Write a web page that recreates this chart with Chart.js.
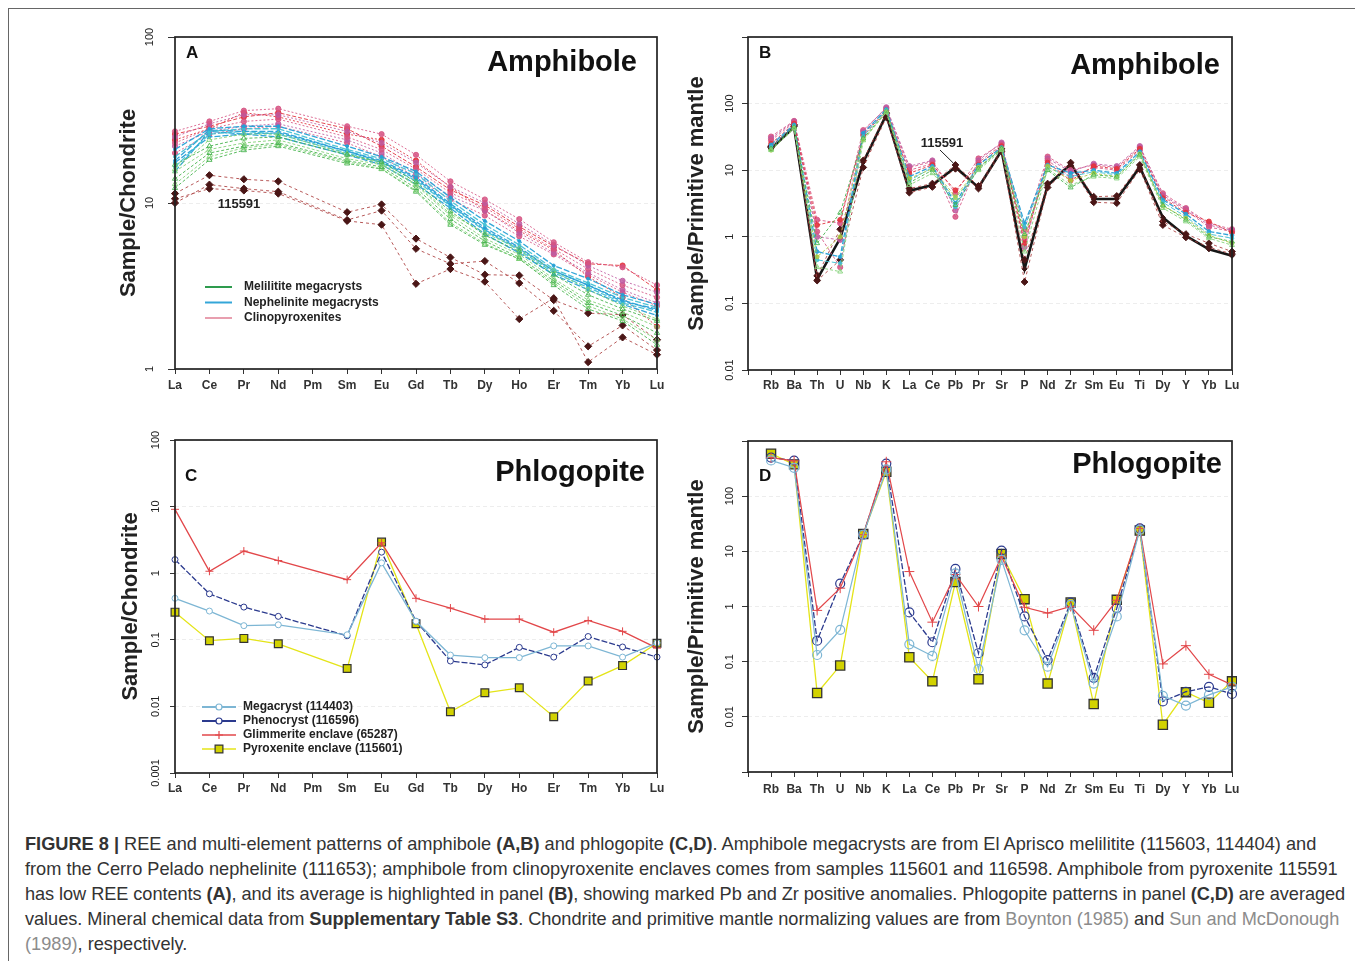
<!DOCTYPE html>
<html><head><meta charset="utf-8">
<script src="https://cdn.jsdelivr.net/npm/chart.js@4.4.1/dist/chart.umd.min.js"></script>
<style>
html,body{margin:0;padding:0;background:#fff;}
body{width:1355px;height:961px;position:relative;overflow:hidden;font-family:"Liberation Sans",Arial,sans-serif;}
.frame{position:absolute;left:8px;top:8px;width:1400px;height:1000px;border-left:1px solid #666;border-top:1px solid #666;}
canvas{position:absolute;}
#caption{position:absolute;left:25px;top:831.5px;font-size:18.2px;line-height:25px;color:#333;white-space:nowrap;}
#caption .g{color:#8c8c8c;}
</style></head><body>
<div class="frame"></div>
<canvas id="cA" width="575" height="385" style="left:95px;top:18px"></canvas>
<canvas id="cB" width="565" height="385" style="left:680px;top:18px"></canvas>
<canvas id="cC" width="575" height="385" style="left:95px;top:420px"></canvas>
<canvas id="cD" width="565" height="385" style="left:680px;top:420px"></canvas>
<div id="caption">
<div><b>FIGURE 8 |</b> REE and multi-element patterns of amphibole <b>(A,B)</b> and phlogopite <b>(C,D)</b>. Amphibole megacrysts are from El Aprisco melilitite (115603, 114404) and</div>
<div>from the Cerro Pelado nephelinite (111653); amphibole from clinopyroxenite enclaves comes from samples 115601 and 116598. Amphibole from pyroxenite 115591</div>
<div style="letter-spacing:-0.07px">has low REE contents <b>(A)</b>, and its average is highlighted in panel <b>(B)</b>, showing marked Pb and Zr positive anomalies. Phlogopite patterns in panel <b>(C,D)</b> are averaged</div>
<div style="letter-spacing:-0.05px">values. Mineral chemical data from <b>Supplementary Table S3</b>. Chondrite and primitive mantle normalizing values are from <span class="g">Boynton (1985)</span> and <span class="g">Sun and McDonough</span></div>
<div><span class="g">(1989)</span>, respectively.</div>
</div>
<script>
// ---------- categories ----------
const REE = ['La','Ce','Pr','Nd','Pm','Sm','Eu','Gd','Tb','Dy','Ho','Er','Tm','Yb','Lu'];
const SPIDER = ['','Rb','Ba','Th','U','Nb','K','La','Ce','Pb','Pr','Sr','P','Nd','Zr','Sm','Eu','Ti','Dy','Y','Yb','Lu'];

// ---------- tick values / labels ----------
const A_TICKS = [1, 10, 100];
const A_TICK_LABELS = ['1', '10', '100'];
const B_TICKS = [0.01, 0.1, 1, 10, 100, 1000];
const B_TICK_LABELS = ['0.01', '0.1', '1', '10', '100', ''];
const C_TICKS = [0.001, 0.01, 0.1, 1, 10, 100];
const C_TICK_LABELS = ['0.001', '0.01', '0.1', '1', '10', '100'];
const D_TICKS = [0.001, 0.01, 0.1, 1, 10, 100, 1000];
const D_TICK_LABELS = ['', '0.01', '0.1', '1', '10', '100', ''];

// ---------- Panel A: amphibole REE (chondrite normalised) ----------
const A_melilitite_1 = [17, 22, 24.5, 25, null, 19.5, 17.7, 13.4, 8.9, 6.4, 5.1, 3.7, 2.8, 2.3, 1.95];
const A_melilitite_2 = [15.5, 21, 23, 24, null, 18.5, 17, 12.8, 8.4, 6.1, 4.9, 3.5, 2.6, 2.2, 1.8];
const A_melilitite_3 = [14, 20, 22, 23, null, 18, 16.5, 12.3, 8.0, 5.9, 4.7, 3.4, 2.5, 2.1, 1.65];
const A_melilitite_4 = [13, 19, 21.5, 22.5, null, 17.7, 16.1, 11.9, 7.6, 5.7, 4.6, 3.3, 2.4, 2.0, 1.5];
const A_melilitite_5 = [12.3, 18.2, 20.8, 22, null, 17.3, 16, 11.7, 7.4, 5.6, 4.6, 3.2, 2.3, 1.95, 1.4];
const A_melilitite_6 = [16, 24, 26, 26, null, 19.8, 17.2, 13, 8.6, 6.6, 5.3, 3.9, 3.0, 2.4, 2.0];
const A_nephelinite_1 = [21, 28, 29, 29, null, 22, 19, 15.5, 10.8, 7.8, 5.9, 4.2, 3.5, 2.8, 2.45];
const A_nephelinite_2 = [19, 27, 28, 28, null, 21, 18.5, 15, 10.3, 7.4, 5.6, 4.0, 3.3, 2.7, 2.35];
const A_nephelinite_3 = [18, 27.5, 27, 27, null, 20.5, 18, 14.3, 9.9, 7.1, 5.4, 3.9, 3.2, 2.6, 2.25];
const A_nephelinite_4 = [16.5, 26, 27, 26, null, 20, 17.5, 13.6, 9.6, 6.8, 5.2, 3.8, 3.1, 2.5, 2.2];
const A_nephelinite_5 = [15.5, 27, 26, 25, null, 19.5, 17, 13, 9.3, 6.5, 5.0, 3.7, 3.0, 2.45, 2.1];
const A_nephelinite_6 = [17.5, 25, 26, 26.5, null, 20.5, 17.7, 14, 9.7, 6.9, 5.3, 3.9, 3.2, 2.55, 2.3];
const A_clinopyrox_1 = [27, 31, 36, 37, null, 29, 26, 19.5, 13.5, 10.5, 8.0, 5.8, 4.4, 4.1, 3.2];
const A_clinopyrox_2 = [25, 30, 34, 34, null, 27, 23, 17.5, 12.5, 10.0, 7.5, 5.6, 4.2, 3.4, 2.9];
const A_clinopyrox_3 = [23, 28, 31, 32, null, 25, 21, 16, 11.5, 9.4, 7.0, 5.3, 4.0, 3.2, 2.7];
const A_clinopyrox_4 = [22, 27, 29, 30, null, 24, 20, 15, 11.0, 9.0, 6.6, 5.0, 3.8, 3.0, 2.5];
const A_clinopyrox_5 = [20, 26, 28, 29, null, 23, 19, 14.3, 10.5, 8.4, 6.3, 4.9, 3.7, 2.9, 2.4];
const A_clinopyrox_6 = [26, 29, 33, 35, null, 28, 22, 16.5, 12, 9.7, 7.2, 5.5, 4.3, 4.2, 3.0];
const A_clinopyrox_7 = [24, 28, 35, 33, null, 26, 24, 18, 12.5, 9.0, 6.8, 5.2, 3.6, 2.7, 1.8];
const A_s115591_1 = [11.4, 14.7, 13.9, 13.5, null, 8.8, 9.8, 6.1, 4.7, 3.7, 3.66, 2.6, 2.17, 2.12, 1.5];
const A_s115591_2 = [10, 12.9, 12.2, 11.7, null, 7.9, 9.0, 5.3, 4.3, 4.47, 3.29, 2.24, 1.37, 1.83, 1.3];
const A_s115591_3 = [10.6, 12.2, 11.9, 11.4, null, 7.8, 7.4, 3.26, 4.0, 3.36, 2.0, 2.67, 1.1, 1.55, 1.22];

// ---------- Panel B: amphibole spidergram (primitive mantle normalised) ----------
const B_pink_1   = [32, 55, 1.8, 1.6, 40, 85, 11, 13.5, 4.5, 15, 25, 1.3, 16, 10, 12, 11, 22, 4.5, 2.7, 1.6, 1.3];
const B_pink_2   = [28, 52, 1.2, 0.35, 35, 80, 10, 12.5, 2.0, 13, 24, 0.9, 14, 8, 11, 10, 20, 4.0, 2.5, 1.4, 1.2];
const B_purple_1 = [30, 54, 1.0, 0.9, 38, 88, 11.5, 14, 2.5, 14, 26, 0.7, 15, 9.5, 12.5, 11.5, 23, 4.2, 2.6, 1.5, 1.25];
const B_red_1    = [25, 50, 1.5, 1.8, 33, 78, 9, 12, 5.0, 12, 23, 0.8, 13, 7, 11.5, 10.5, 21, 3.8, 2.3, 1.7, 1.15];
const B_blue_1   = [24, 48, 0.6, 0.5, 36, 82, 8, 11.5, 3.2, 12, 22, 1.6, 12, 9, 10, 9, 19, 3.6, 2.2, 1.2, 1.05];
const B_cyan_1   = [22, 46, 0.45, 0.4, 32, 80, 7, 11, 2.8, 11, 21, 1.4, 11, 8, 9.5, 8.5, 18, 3.3, 2.0, 1.1, 0.95];
const B_green_1  = [21, 44, 0.8, 2.3, 30, 76, 6.5, 10, 3.0, 10.5, 21, 1.1, 10, 5.5, 8.5, 8, 17, 3.0, 1.8, 1.0, 0.85];
const B_green_2  = [20, 42, 0.35, 0.3, 28, 74, 6, 9, 3.8, 10, 20, 0.6, 10.5, 6, 8, 7.5, 16, 2.7, 1.7, 0.95, 0.75];
const B_lime_1   = [20, 43, 0.5, 1.0, 29, 75, 7.5, 10.5, 4.0, 11, 21, 1.0, 11.5, 7, 9, 8, 17.5, 2.9, 1.9, 1.05, 0.8];
const B_s115591_a = [23, 46, 0.22, 0.45, 11, 62, 4.6, 5.6, 10.5, 5.3, 19, 0.21, 5.5, 11.5, 3.3, 3.2, 10.3, 1.5, 0.98, 0.7, 0.55];
const B_s115591_b = [22, 48, 0.26, 1.3, 14, 72, 5.3, 6.3, 12, 5.8, 21, 0.45, 6.3, 13, 4.0, 4.1, 12, 1.7, 1.1, 0.8, 0.6];
const B_s115591_avg = [21, 44.5, 0.23, 0.95, 13.2, 68, 4.9, 6.0, 11.1, 5.5, 19.8, 0.33, 5.9, 12.4, 3.7, 3.7, 11.1, 1.95, 1.03, 0.65, 0.52];

// ---------- Panel C: phlogopite REE ----------
const C_megacryst   = [0.42, 0.27, 0.163, 0.168, null, 0.119, 1.43, 0.19, 0.059, 0.054, 0.054, 0.081, 0.081, 0.055, 0.09];
const C_phenocryst  = [1.6, 0.49, 0.31, 0.225, null, 0.115, 2.07, 0.19, 0.048, 0.042, 0.077, 0.055, 0.112, 0.078, 0.055];
const C_glimmerite  = [9.1, 1.07, 2.15, 1.55, null, 0.8, 2.86, 0.42, 0.30, 0.205, 0.205, 0.13, 0.195, 0.134, 0.075];
const C_pyroxenite  = [0.26, 0.097, 0.105, 0.087, null, 0.037, 2.93, 0.174, 0.0083, 0.016, 0.019, 0.007, 0.024, 0.041, 0.089];

// ---------- Panel D: phlogopite spidergram ----------
const D_megacryst  = [445, 327, 0.132, 0.377, 20, 305, 0.206, 0.127, 4.0, 0.073, 7.0, 0.37, 0.081, 1.07, 0.04, 0.66, 24.5, 0.024, 0.016, 0.025, 0.035];
const D_phenocryst = [500, 440, 0.24, 2.6, 20, 390, 0.78, 0.225, 4.8, 0.142, 10.3, 0.66, 0.107, 1.18, 0.051, 0.93, 26, 0.019, 0.0285, 0.035, 0.026];
const D_glimmerite = [500, 436, 0.85, 2.15, 20, 420, 4.3, 0.52, 3.8, 1.0, 8.1, 0.97, 0.76, 1.0, 0.37, 1.3, 26, 0.091, 0.195, 0.059, 0.038];
const D_pyroxenite = [589, 377, 0.027, 0.085, 20.6, 277, 0.12, 0.044, 2.77, 0.048, 8.95, 1.36, 0.04, 1.18, 0.017, 1.32, 23.8, 0.0072, 0.028, 0.018, 0.044];

// ---------- styling ----------
const FONT = '"Liberation Sans", Arial, Helvetica, sans-serif';
Chart.defaults.font.family = FONT;
Chart.defaults.color = '#222';

const COL = {
  green: 'rgba(72,180,80,0.9)', greenL: 'rgba(130,210,120,0.9)',
  blue: 'rgba(38,160,214,0.95)', cyan: 'rgba(60,190,210,0.9)',
  pink: 'rgba(214,84,130,0.85)', red: 'rgba(226,52,62,0.9)', purple: 'rgba(190,90,160,0.85)',
  darkLine: 'rgba(170,60,60,0.85)', dark: '#4a1616',
  mega: '#7db6d4', pheno: '#2b3a8e', glim: '#e2474a', pyroxLine: '#e4e418', pyroxFill: '#d2d200'
};

function ln(data, color, o = {}) {
  return Object.assign({
    data, borderColor: color, backgroundColor: color, borderWidth: 1,
    borderDash: [3, 2], pointRadius: 2.2, pointBorderWidth: 1, pointStyle: 'circle',
    pointBackgroundColor: color, pointBorderColor: color, tension: 0, spanGaps: true, clip: 5
  }, o);
}
const sp = arr => [null, ...arr];

const decor = {
  id: 'decor',
  afterDraw(chart, args, o) {
    const ctx = chart.ctx, a = chart.chartArea;
    ctx.save();
    ctx.strokeStyle = '#222'; ctx.lineWidth = 1.7;
    ctx.strokeRect(a.left, a.top, a.right - a.left, a.bottom - a.top);
    ctx.fillStyle = '#111'; ctx.textBaseline = 'middle';
    ctx.font = 'bold 17px ' + FONT; ctx.textAlign = 'left';
    ctx.fillText(o.letter, o.lx, o.ly);
    ctx.font = 'bold 29px ' + FONT; ctx.textAlign = 'right';
    ctx.fillText(o.title, o.tx, o.ty);
    if (o.legend) {
      ctx.font = 'bold 12px ' + FONT; ctx.textAlign = 'left';
      o.legend.items.forEach((it, i) => {
        const y = o.legend.y + i * o.legend.dy;
        ctx.strokeStyle = it.color; ctx.lineWidth = it.w || 2;
        ctx.setLineDash(it.dash || []);
        ctx.beginPath(); ctx.moveTo(o.legend.x0, y); ctx.lineTo(o.legend.x1, y); ctx.stroke();
        ctx.setLineDash([]);
        if (it.point) {
          ctx.fillStyle = it.fill || 'rgba(0,0,0,0)'; ctx.strokeStyle = it.pcolor || it.color; ctx.lineWidth = 1.2;
          Chart.helpers.drawPoint(ctx, {pointStyle: it.point, radius: it.r || 3.5, borderWidth: 1.2, rotation: 0}, (o.legend.x0 + o.legend.x1) / 2, y);
        }
        ctx.fillStyle = '#222';
        ctx.fillText(it.label, o.legend.tx, y);
      });
    }
    if (o.note) {
      ctx.fillStyle = '#222'; ctx.font = 'bold 13px ' + FONT; ctx.textAlign = 'center';
      ctx.fillText(o.note.text, o.note.x, o.note.y);
      if (o.note.ds !== undefined) {
        const p = chart.getDatasetMeta(o.note.ds).data[o.note.idx];
        ctx.strokeStyle = '#222'; ctx.lineWidth = 1;
        ctx.beginPath(); ctx.moveTo(o.note.x - 2, o.note.y + 7); ctx.lineTo(p.x - 2, p.y - 4); ctx.stroke();
      }
    }
    ctx.restore();
  }
};

function makePanel(id, cfg) {
  new Chart(document.getElementById(id), {
    type: 'line',
    data: { labels: cfg.cats, datasets: cfg.datasets },
    plugins: [decor],
    options: {
      responsive: false, animation: false, events: [],
      layout: { padding: { left: 0, top: cfg.top, right: cfg.right, bottom: 0 } },
      plugins: { legend: { display: false }, tooltip: { enabled: false }, decor: cfg.decor },
      scales: {
        x: {
          type: 'category', offset: false,
          grid: { drawOnChartArea: false, tickLength: 5, tickColor: '#333', tickWidth: 1 },
          border: { display: false },
          ticks: { autoSkip: false, maxRotation: 0, minRotation: 0, color: '#333', padding: cfg.xpad,
                   font: { size: 12, weight: 'bold', family: FONT } },
          afterFit(s) { s.height = cfg.xh; }
        },
        y: {
          type: 'logarithmic', min: cfg.ymin, max: cfg.ymax,
          afterBuildTicks(s) { s.ticks = cfg.yticks.map(v => ({ value: v })); },
          ticks: { callback: (v, i) => cfg.ylabels[i], minRotation: 90, maxRotation: 90, crossAlign: 'center',
                   padding: cfg.ypad, color: '#222', font: { size: 11, family: FONT } },
          grid: { color: 'rgba(0,0,0,0.07)', tickColor: '#333', tickLength: cfg.ytl, tickWidth: 1 },
          border: { display: false, dash: [4, 3] },
          title: { display: true, text: cfg.ytitle, color: '#222', font: { size: 22, weight: 'bold', family: FONT },
                   padding: { top: cfg.ttop, bottom: 0 } },
          afterFit(s) { s.width = cfg.yw; }
        }
      }
    }
  });
}

// Panel A
makePanel('cA', {
  cats: REE, top: 19, right: 13, xh: 34, xpad: 4, yw: 80, ytl: 7, ypad: 9, ttop: 21,
  ymin: 1, ymax: 100, yticks: A_TICKS, ylabels: A_TICK_LABELS, ytitle: 'Sample/Chondrite',
  datasets: [
    ln(A_melilitite_1, COL.green, {pointStyle: 'triangle', pointBackgroundColor: 'rgba(0,0,0,0)', pointRadius: 3}),
    ln(A_melilitite_2, COL.greenL, {pointStyle: 'triangle', pointBackgroundColor: 'rgba(0,0,0,0)', pointRadius: 3}),
    ln(A_melilitite_3, COL.green, {pointStyle: 'triangle', pointBackgroundColor: 'rgba(0,0,0,0)', pointRadius: 3}),
    ln(A_melilitite_4, COL.greenL, {pointStyle: 'triangle', pointBackgroundColor: 'rgba(0,0,0,0)', pointRadius: 3}),
    ln(A_melilitite_5, COL.green, {pointStyle: 'triangle', pointBackgroundColor: 'rgba(0,0,0,0)', pointRadius: 3}),
    ln(A_melilitite_6, COL.greenL, {pointStyle: 'triangle', pointBackgroundColor: 'rgba(0,0,0,0)', pointRadius: 3}),
    ln(A_nephelinite_1, COL.blue, {borderDash: [6, 2], borderWidth: 1.3, pointRadius: 1.5}),
    ln(A_nephelinite_2, COL.cyan, {borderDash: [6, 2], borderWidth: 1.3, pointRadius: 1.5}),
    ln(A_nephelinite_3, COL.blue, {borderDash: [6, 2], borderWidth: 1.3, pointRadius: 1.5}),
    ln(A_nephelinite_4, COL.cyan, {borderDash: [6, 2], borderWidth: 1.3, pointRadius: 1.5}),
    ln(A_nephelinite_5, COL.blue, {borderDash: [6, 2], borderWidth: 1.3, pointRadius: 1.5}),
    ln(A_nephelinite_6, COL.blue, {borderDash: [6, 2], borderWidth: 1.3, pointRadius: 1.5}),
    ln(A_clinopyrox_1, COL.pink, {borderDash: [2, 2], pointRadius: 2.6}),
    ln(A_clinopyrox_2, COL.purple, {borderDash: [2, 2], pointRadius: 2.6}),
    ln(A_clinopyrox_3, COL.pink, {borderDash: [2, 2], pointRadius: 2.6}),
    ln(A_clinopyrox_4, COL.purple, {borderDash: [2, 2], pointRadius: 2.6}),
    ln(A_clinopyrox_5, COL.pink, {borderDash: [2, 2], pointRadius: 2.6}),
    ln(A_clinopyrox_6, COL.red, {borderDash: [4, 2], pointRadius: 2.6}),
    ln(A_clinopyrox_7, COL.red, {borderDash: [2, 2], pointRadius: 2.6}),
    ln(A_s115591_1, COL.darkLine, {borderDash: [3, 3], pointStyle: 'rectRot', pointRadius: 3.6, pointBackgroundColor: COL.dark, pointBorderColor: COL.dark}),
    ln(A_s115591_2, COL.darkLine, {borderDash: [3, 3], pointStyle: 'rectRot', pointRadius: 3.6, pointBackgroundColor: COL.dark, pointBorderColor: COL.dark}),
    ln(A_s115591_3, COL.darkLine, {borderDash: [3, 3], pointStyle: 'rectRot', pointRadius: 3.6, pointBackgroundColor: COL.dark, pointBorderColor: COL.dark})
  ],
  decor: {
    letter: 'A', lx: 91, ly: 35, title: 'Amphibole', tx: 542, ty: 45,
    note: { text: '115591', x: 144, y: 186 },
    legend: { x0: 110, x1: 137, tx: 149, y: 269, dy: 15.5, items: [
      { label: 'Melilitite megacrysts', color: '#2e9b4e', w: 2 },
      { label: 'Nephelinite megacrysts', color: '#34a6d8', w: 2 },
      { label: 'Clinopyroxenites', color: '#d9607a', w: 1.2 }
    ]}
  }
});

// Panel B
makePanel('cB', {
  cats: SPIDER, top: 19, right: 13, xh: 33, xpad: 3, yw: 68, ytl: 6, ypad: 1, ttop: 4,
  ymin: 0.01, ymax: 1000, yticks: B_TICKS, ylabels: B_TICK_LABELS, ytitle: 'Sample/Primitive mantle',
  datasets: [
    ln(sp(B_green_2), COL.greenL, {pointStyle: 'triangle', pointBackgroundColor: 'rgba(0,0,0,0)', pointRadius: 2.8}),
    ln(sp(B_green_1), COL.green, {pointStyle: 'triangle', pointBackgroundColor: 'rgba(0,0,0,0)', pointRadius: 2.8}),
    ln(sp(B_lime_1), 'rgba(170,200,60,0.85)', {pointRadius: 2}),
    ln(sp(B_cyan_1), COL.cyan, {borderDash: [5, 2], pointRadius: 1.8}),
    ln(sp(B_blue_1), COL.blue, {borderDash: [5, 2], borderWidth: 1.3, pointRadius: 1.8}),
    ln(sp(B_red_1), COL.red, {pointRadius: 2.4}),
    ln(sp(B_pink_2), COL.pink, {pointRadius: 2.6}),
    ln(sp(B_purple_1), COL.purple, {pointRadius: 2.6}),
    ln(sp(B_pink_1), COL.pink, {pointRadius: 2.6}),
    ln(sp(B_s115591_a), COL.darkLine, {borderDash: [3, 3], pointStyle: 'rectRot', pointRadius: 3.4, pointBackgroundColor: COL.dark, pointBorderColor: COL.dark}),
    ln(sp(B_s115591_b), COL.darkLine, {borderDash: [3, 3], pointStyle: 'rectRot', pointRadius: 3.4, pointBackgroundColor: COL.dark, pointBorderColor: COL.dark}),
    ln(sp(B_s115591_avg), '#161616', {borderDash: [], borderWidth: 2.6, pointRadius: 2.6, pointStyle: 'rectRot', pointBackgroundColor: '#3a1414', pointBorderColor: '#3a1414'})
  ],
  decor: {
    letter: 'B', lx: 79, ly: 35, title: 'Amphibole', tx: 540, ty: 48,
    note: { text: '115591', x: 262, y: 125, ds: 11, idx: 9 }
  }
});

// Panel C
makePanel('cC', {
  cats: REE, top: 20, right: 13, xh: 32, xpad: 3, yw: 80, ytl: 5, ypad: 0, ttop: 23,
  ymin: 0.001, ymax: 100, yticks: C_TICKS, ylabels: C_TICK_LABELS, ytitle: 'Sample/Chondrite',
  datasets: [
    ln(C_megacryst, COL.mega, {borderDash: [], borderWidth: 1.3, pointRadius: 3, pointBackgroundColor: '#fff', pointBorderColor: COL.mega}),
    ln(C_phenocryst, COL.pheno, {borderDash: [6, 2], borderWidth: 1.3, pointRadius: 3, pointBackgroundColor: '#fff', pointBorderColor: COL.pheno}),
    ln(C_glimmerite, COL.glim, {borderDash: [], borderWidth: 1.3, pointStyle: 'cross', pointRadius: 4}),
    ln(C_pyroxenite, COL.pyroxLine, {borderDash: [], borderWidth: 1.3, pointStyle: 'rect', pointRadius: 5.5, pointBackgroundColor: COL.pyroxFill, pointBorderColor: '#333', pointBorderWidth: 1.2})
  ],
  decor: {
    letter: 'C', lx: 90, ly: 56, title: 'Phlogopite', tx: 550, ty: 53,
    legend: { x0: 107, x1: 141, tx: 148, y: 287, dy: 14, items: [
      { label: 'Megacryst (114403)', color: COL.mega, w: 2, point: 'circle', r: 3, fill: '#fff' },
      { label: 'Phenocryst (116596)', color: COL.pheno, w: 2, point: 'circle', r: 3, fill: '#fff' },
      { label: 'Glimmerite enclave (65287)', color: COL.glim, w: 1.5, point: 'cross', r: 4 },
      { label: 'Pyroxenite enclave (115601)', color: COL.pyroxLine, w: 1.5, point: 'rect', r: 5.5, fill: COL.pyroxFill, pcolor: '#333' }
    ]}
  }
});

// Panel D
makePanel('cD', {
  cats: SPIDER, top: 21, right: 13, xh: 33, xpad: 5, yw: 68, ytl: 6, ypad: 1, ttop: 4,
  ymin: 0.001, ymax: 1000, yticks: D_TICKS, ylabels: D_TICK_LABELS, ytitle: 'Sample/Primitive mantle',
  datasets: [
    ln(sp(D_megacryst), COL.mega, {borderDash: [], borderWidth: 1.2, pointRadius: 4.5, pointBackgroundColor: 'rgba(255,255,255,0)', pointBorderColor: COL.mega, pointBorderWidth: 1.2}),
    ln(sp(D_glimmerite), COL.glim, {borderDash: [], borderWidth: 1.2, pointStyle: 'cross', pointRadius: 5}),
    ln(sp(D_phenocryst), COL.pheno, {borderDash: [6, 2], borderWidth: 1.3, pointRadius: 4.5, pointBackgroundColor: 'rgba(255,255,255,0)', pointBorderColor: COL.pheno, pointBorderWidth: 1.2}),
    ln(sp(D_pyroxenite), COL.pyroxLine, {borderDash: [], borderWidth: 1.3, pointStyle: 'rect', pointRadius: 6.5, pointBackgroundColor: COL.pyroxFill, pointBorderColor: '#333', pointBorderWidth: 1.3})
  ],
  decor: { letter: 'D', lx: 79, ly: 56, title: 'Phlogopite', tx: 542, ty: 45 }
});
</script>
</body></html>
